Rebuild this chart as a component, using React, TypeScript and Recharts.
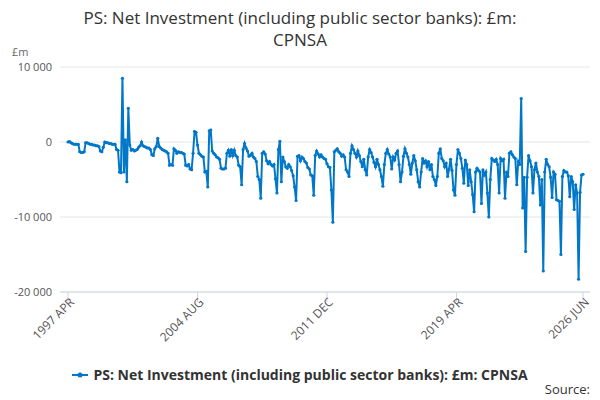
import React from 'react';
import { LineChart, Line, XAxis, YAxis, CartesianGrid } from 'recharts';

const TITLE_LINES = ['PS: Net Investment (including public sector banks): £m:', 'CPNSA'];
const SERIES_NAME = 'PS: Net Investment (including public sector banks): £m: CPNSA';
const LINE_COLOR = '#0077c8';

const START_YEAR = 1997;
const START_MONTH = 3; // April
const MONTHS = ['JAN', 'FEB', 'MAR', 'APR', 'MAY', 'JUN', 'JUL', 'AUG', 'SEP', 'OCT', 'NOV', 'DEC'];

// £m, monthly from 1997 APR to 2026 JUN
const VALUES = [
    0, 50, -100, -200, -300, -300, -300, -300, -1300, -1400, -1400, -1300,
    -100, -100, -200, -300, -300, -400, -400, -500, -500, -600, -1200, -1300,
    -700, 0, -100, -100, -200, -200, -300, -300, -300, -1000, -1100, -4000,
    -4100, 8500, -4000, 300, -5300, 4500, -400, -1100, -1000, -1200, -1100, -1000,
    -700, -500, 0, -500, -600, -700, -800, -800, -1000, -1700, -1800, -900,
    -600, 500, -600, -800, -1000, -1100, -1200, -1300, -1500, -3100, -3000, -3100,
    -900, -1100, -1500, -1300, -1400, -1400, -1500, -1600, -3100, -3200, -3000, -3600,
    -3700, -1500, 1400, 1300, -400, -1500, -1700, -1900, -2000, -4000, -3900, -6000,
    1500, 1600, -1200, -1500, -1700, -2000, -2100, -2300, -3500, -3600, -3600, -3500,
    -1500, -1100, -1900, -1000, -1800, -1100, -1800, -2000, -3100, -3300, -5700, -1000,
    -200, -800, -1200, -1900, -1800, -1500, -2000, -2200, -2600, -4600, -5000, -7500,
    -1500, -1300, -1600, -2500, -2900, -2600, -3000, -3200, -3000, -4900, -6800, -1000,
    100, -5300, -2000, -2600, -3300, -3500, -3000, -3300, -3800, -4500, -6000, -7800,
    -1900, -1800, -2500, -2000, -2200, -2600, -2800, -3400, -3600, -4400, -4500, -7100,
    -1800, -1200, -1600, -2000, -1700, -2000, -2200, -2300, -2900, -3300, -3400, -6400,
    -10700, -1300, -1100, -900, -1300, -1500, -1900, -1700, -2000, -3700, -4000, -4600,
    -1500, -500, -1000, -1500, -2000, -1200, -1800, -2600, -3300, -2300, -3700, -4400,
    -2000, -1000, -1400, -2000, -2700, -3300, -2300, -3000, -3700, -4600, -5900, -3000,
    -1500, -1000, -1600, -2000, -3600, -2000, -2400, -1500, -1200, -3000, -5300, -4000,
    -1900, -900, -1500, -2000, -3000, -4300, -2800, -1800, -2500, -3700, -5300, -6000,
    -4000, -2200, -2800, -2500, -3300, -2600, -3700, -3000, -4600, -5000, -5800, -4600,
    -1500, -900, -2200, -2500, -3300, -2800, -4600, -3600, -2300, -3800, -6400, -7100,
    -3000, -1000, -1500, -2200, -3500, -5500, -2400, -3000, -5800, -3700, -5300, -7000,
    -9300, -4000, -3500, -3800, -4000, -8200, -3700, -4400, -4000, -6800, -10000, -5000,
    -2200, -2400, -2600, -2300, -3000, -6800, -2200, -2500, -2300, -7500, -4000, -4600,
    -1500, -1300, -1700, -2000, -2200, -5700, -2600, -3000, 5800, -8800, -4700, -14600,
    -4700, -1800, -2500, -3300, -6800, -3700, -2800, -4000, -4600, -8400, -5000, -17200,
    -4000, -2300, -3000, -3300, -4700, -7400, -4000, -4300, -7700, -7800, -7900, -15000,
    -4600, -3800, -4000, -4000, -4500, -7300, -4600, -5300, -9000, -5700, -6800, -18300,
    -6700, -4400, -4300,
];

const TICK_INDEX = [0, 88, 176, 264, 350];
const TICK_LABELS = ['1997 APR', '2004 AUG', '2011 DEC', '2019 APR', '2026 JUN'];
const Y_TICKS = [-20000, -10000, 0, 10000];

const data = VALUES.map((value, i) => {
    const m = START_MONTH + i;
    return { i, date: `${START_YEAR + Math.floor(m / 12)} ${MONTHS[m % 12]}`, value };
});

const FONT = '"Open Sans", "DejaVu Sans", sans-serif';

const formatY = (v: number) => {
    const s = String(Math.abs(v)).replace(/\B(?=(\d{3})+(?!\d))/g, ' ');
    return v < 0 ? `-${s}` : s;
};

const XTick = ({ x, y, payload }: any) => {
    const idx = TICK_INDEX.indexOf(payload.value);
    return (
        <g transform={`translate(${x + 4},${y - 4})`}>
            <text x={0} y={0} dy="0.35em" textAnchor="end" transform="rotate(-45)" fill="#555" fontSize={12}>
                {TICK_LABELS[idx]}
            </text>
        </g>
    );
};

const App: React.FC = () => (
    <div style={{ position: 'relative', width: 600, height: 400, fontFamily: FONT, background: '#fff' }}>
        <style>{`body{margin:0}`}</style>
        <div style={{ position: 'absolute', top: 7, left: 0, width: 600, textAlign: 'center', fontSize: 17, lineHeight: '22px', color: '#333' }}>
            {TITLE_LINES[0]}<br />{TITLE_LINES[1]}
        </div>
        <div style={{ position: 'absolute', top: 44, left: 12, fontSize: 11, color: '#666' }}>£m</div>

        <LineChart width={600} height={400} data={data} margin={{ top: 67, right: 10, left: 8, bottom: 0 }} style={{ fontFamily: FONT }}>
            <CartesianGrid vertical={false} stroke="#e6e6e6" />
            <XAxis
                dataKey="i"
                type="number"
                domain={[0, 350]}
                ticks={TICK_INDEX}
                interval={0}
                padding={{ left: 8, right: 7 }}
                height={108}
                stroke="#ccd6eb"
                tickSize={10}
                tick={<XTick />}
            />
            <YAxis
                domain={[-20000, 10000]}
                ticks={Y_TICKS}
                interval={0}
                width={52}
                axisLine={false}
                tickLine={false}
                tickFormatter={formatY}
                tick={{ fill: '#555', fontSize: 11 }}
            />
            <Line
                dataKey="value"
                name={SERIES_NAME}
                stroke={LINE_COLOR}
                strokeWidth={2}
                dot={{ r: 1.6, fill: LINE_COLOR, stroke: LINE_COLOR, strokeWidth: 0 }}
                isAnimationActive={false}
            />
        </LineChart>

        <div style={{ position: 'absolute', top: 365, left: 0, width: 600, display: 'flex', justifyContent: 'center', alignItems: 'center', fontSize: 14, fontWeight: 700, color: '#333' }}>
            <svg width={16} height={12} style={{ marginRight: 5 }}>
                <line x1={0} y1={6} x2={16} y2={6} stroke={LINE_COLOR} strokeWidth={2} />
                <circle cx={8} cy={6} r={2.5} fill={LINE_COLOR} />
            </svg>
            <span>{SERIES_NAME}</span>
        </div>
        <div style={{ position: 'absolute', top: 380, right: 10, fontSize: 13, color: '#333' }}>Source:</div>
    </div>
);

export default App;
